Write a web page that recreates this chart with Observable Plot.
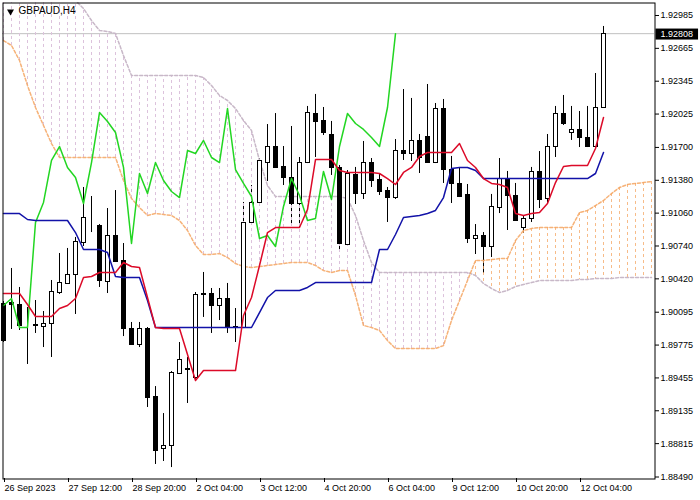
<!DOCTYPE html>
<html><head><meta charset="utf-8">
<script src="https://cdn.jsdelivr.net/npm/d3@7"></script>
<script src="https://cdn.jsdelivr.net/npm/@observablehq/plot@0.6"></script>
<style>
html,body{margin:0;padding:0;background:#fff;}
#chart{width:700px;height:500px;overflow:hidden;}
</style></head><body><div id="chart"></div>
<script>
const symbol = "GBPAUD,H4";
const lastPrice = 1.92808;
const dateLabels = ["26 Sep 2023","27 Sep 12:00","28 Sep 20:00","2 Oct 04:00","3 Oct 12:00","4 Oct 20:00","6 Oct 04:00","9 Oct 12:00","10 Oct 20:00","12 Oct 04:00"];
const labelBars = [0,8,16,24,32,40,48,56,64,72];
const priceTicks = [1.92985,1.92665,1.92345,1.92025,1.91700,1.91380,1.91060,1.90740,1.90420,1.90095,1.89775,1.89455,1.89135,1.88815,1.88490];

const open = [1.90180,1.90190,1.90170,1.89966,1.89975,1.89956,1.89985,1.90287,1.90375,1.90462,
1.90774,1.90930,1.90940,1.90394,1.90842,1.90599,1.89936,1.89780,1.89936,1.89274,
1.88768,1.88797,1.89498,1.89547,1.89459,1.90277,1.90277,1.90160,1.90229,1.89956,
1.89946,1.90969,1.91164,1.91553,1.91709,1.91514,1.91407,1.91154,1.91553,1.92030,
1.91962,1.91826,1.91505,1.90755,1.91436,1.91251,1.91553,1.91388,1.91280,1.91212,
1.91670,1.91641,1.91768,1.91806,1.91553,1.92079,1.91485,1.91349,1.91242,1.90813,
1.90842,1.90735,1.91115,1.91397,1.91232,1.90920,1.91008,1.91466,1.91203,1.91709,
1.92030,1.91845,1.91875,1.91797,1.91709,1.92089];
const high = [1.90199,1.90521,1.90336,1.90141,1.90209,1.90102,1.90404,1.90667,1.90716,1.90823,
1.91310,1.91222,1.90949,1.91105,1.91280,1.90764,1.89995,1.89995,1.89946,1.89371,
1.89108,1.89517,1.89800,1.89654,1.90287,1.90482,1.90326,1.90326,1.90375,1.90131,
1.91164,1.91329,1.91592,1.91923,1.92030,1.91709,1.91904,1.91602,1.92099,1.92216,
1.92089,1.91953,1.91524,1.91475,1.91505,1.91758,1.91592,1.91436,1.91310,1.91777,
1.92264,1.92177,1.91826,1.92313,1.92128,1.92167,1.91612,1.91495,1.91339,1.90949,
1.90871,1.91242,1.91592,1.91466,1.91349,1.91037,1.91505,1.91660,1.91826,1.92099,
1.92206,1.92099,1.92050,1.92099,1.92420,1.92878];
const low = [1.89800,1.89927,1.89917,1.89586,1.89888,1.89751,1.89654,1.90268,1.90375,1.90073,
1.90735,1.90871,1.90336,1.90277,1.90579,1.89858,1.89780,1.89751,1.89167,1.88612,
1.88641,1.88582,1.89488,1.89206,1.89440,1.90044,1.89888,1.90014,1.89888,1.89800,
1.89936,1.90959,1.91154,1.91368,1.91505,1.91329,1.90940,1.90920,1.91543,1.91602,
1.91816,1.91427,1.90696,1.90745,1.91144,1.91193,1.91310,1.91232,1.90969,1.91193,
1.91573,1.91563,1.91446,1.91553,1.91543,1.91349,1.91154,1.91212,1.90764,1.90657,
1.90472,1.90628,1.91056,1.90891,1.90979,1.90862,1.90969,1.91105,1.91154,1.91602,
1.91914,1.91768,1.91699,1.91699,1.91709,1.92089];
const close = [1.89819,1.90170,1.89966,1.89966,1.89970,1.89985,1.90297,1.90384,1.90462,1.90784,
1.91018,1.90930,1.90404,1.90842,1.90589,1.89936,1.89780,1.89936,1.89264,1.88748,
1.88797,1.89508,1.89634,1.89540,1.90268,1.90270,1.90160,1.90229,1.89946,1.89946,
1.90969,1.91164,1.91573,1.91709,1.91505,1.91407,1.91154,1.91553,1.92040,1.91953,
1.91845,1.91505,1.90764,1.91446,1.91251,1.91553,1.91378,1.91271,1.91212,1.91670,
1.91641,1.91768,1.91602,1.91553,1.92079,1.91485,1.91349,1.91222,1.90813,1.90842,
1.90735,1.91125,1.91397,1.91232,1.90988,1.91008,1.91466,1.91193,1.91709,1.92030,
1.91933,1.91875,1.91797,1.91709,1.92089,1.92808];
const tenkan = [1.90277,1.90277,1.90277,1.90170,1.90053,1.90053,1.90053,1.90131,1.90160,1.90229,
1.90433,1.90443,1.90482,1.90482,1.90482,1.90579,1.90540,1.90530,1.90238,1.89946,
1.89936,1.89936,1.89936,1.89683,1.89430,1.89527,1.89527,1.89527,1.89527,1.89527,
1.90063,1.90238,1.90550,1.90871,1.90920,1.90920,1.90920,1.90920,1.91095,1.91582,
1.91582,1.91582,1.91475,1.91456,1.91456,1.91456,1.91456,1.91446,1.91397,1.91339,
1.91456,1.91505,1.91612,1.91651,1.91651,1.91651,1.91651,1.91738,1.91573,1.91505,
1.91397,1.91349,1.91339,1.91310,1.91056,1.91037,1.91056,1.91066,1.91154,1.91358,
1.91514,1.91524,1.91524,1.91524,1.91690,1.91992];
const kijun = [1.91056,1.91056,1.91056,1.90998,1.90988,1.90988,1.90988,1.90988,1.90988,1.90871,
1.90706,1.90706,1.90706,1.90677,1.90443,1.90433,1.90433,1.90433,1.90209,1.89946,
1.89946,1.89946,1.89946,1.89946,1.89946,1.89946,1.89946,1.89946,1.89946,1.89946,
1.89946,1.89946,1.90092,1.90238,1.90307,1.90307,1.90307,1.90307,1.90336,1.90384,
1.90384,1.90384,1.90384,1.90384,1.90384,1.90384,1.90384,1.90706,1.90706,1.90852,
1.91018,1.91027,1.91037,1.91056,1.91086,1.91212,1.91495,1.91505,1.91505,1.91475,
1.91397,1.91397,1.91397,1.91397,1.91397,1.91397,1.91397,1.91397,1.91397,1.91397,
1.91397,1.91397,1.91397,1.91397,1.91446,1.91651];
const spanA = [1.92741,1.92693,1.92547,1.92303,1.92089,1.91914,1.91738,1.91602,1.91602,1.91602,
1.91602,1.91602,1.91602,1.91602,1.91602,1.91378,1.91203,1.91115,1.91037,1.91056,
1.91047,1.91037,1.90988,1.90891,1.90745,1.90657,1.90657,1.90667,1.90628,1.90569,
1.90540,1.90530,1.90540,1.90550,1.90560,1.90569,1.90579,1.90579,1.90579,1.90550,
1.90501,1.90482,1.90501,1.90501,1.90258,1.89966,1.89946,1.89917,1.89819,1.89741,
1.89741,1.89741,1.89741,1.89741,1.89741,1.89770,1.90014,1.90209,1.90404,1.90599,
1.90599,1.90608,1.90618,1.90618,1.90793,1.90891,1.90910,1.90920,1.90920,1.90920,
1.90920,1.90920,1.91066,1.91086,1.91134,1.91183,1.91251,1.91310,1.91339,1.91349,
1.91358,1.91368];
const spanB = [1.93131,1.93131,1.93131,1.93131,1.93131,1.93131,1.93131,1.93131,1.93131,1.93131,
1.93053,1.92936,1.92839,1.92829,1.92810,1.92595,1.92401,1.92401,1.92401,1.92401,
1.92401,1.92401,1.92401,1.92401,1.92401,1.92381,1.92303,1.92206,1.92157,1.92079,
1.91962,1.91865,1.91573,1.91329,1.91222,1.91222,1.91222,1.91222,1.91222,1.91222,
1.91222,1.91222,1.91222,1.91203,1.91037,1.90793,1.90579,1.90482,1.90482,1.90482,
1.90482,1.90482,1.90482,1.90482,1.90482,1.90482,1.90482,1.90482,1.90482,1.90453,
1.90375,1.90326,1.90287,1.90307,1.90345,1.90365,1.90384,1.90404,1.90404,1.90404,
1.90404,1.90404,1.90414,1.90414,1.90423,1.90423,1.90423,1.90433,1.90433,1.90433,
1.90433,1.90433];

const candles = open.map((o, i) => ({i, o, h: high[i], l: low[i], c: close[i], t: tenkan[i], k: kijun[i]}));
const cloud = spanA.map((a, i) => ({i, a, b: spanB[i]}));
const chikou = close.slice(26).map((c, i) => ({i, c}));

const FONT = "'Liberation Sans', Arial, 'DejaVu Sans', sans-serif";
const SANDY = "#f4a460", THISTLE = "#dcc2dc", THISTLE_LINE = "#c8b8c8";

const plot = Plot.plot({
  width: 700, height: 500,
  marginTop: 2, marginBottom: 22, marginLeft: 2, marginRight: 46,
  style: {fontFamily: FONT, fontSize: "9px", color: "#000", background: "#fff", overflow: "visible"},
  x: {domain: [-0.125, 81.375]},
  y: {domain: [1.884754, 1.931116]},
  marks: [
    Plot.ruleY([lastPrice], {stroke: "#c0c0c0", clip: true}),
    // wicks
    Plot.ruleX(candles, {x: "i", y1: "l", y2: "h", stroke: "#000"}),
    // cloud hatch (drawn over wicks)
    Plot.ruleX(cloud.filter(d => d.b > d.a), {x: "i", y1: "a", y2: "b", stroke: THISTLE, strokeDasharray: "3,3", clip: true}),
    Plot.ruleX(cloud.filter(d => d.a >= d.b), {x: "i", y1: "a", y2: "b", stroke: SANDY, strokeOpacity: 0.75, strokeDasharray: "3,3", clip: true}),
    Plot.line(cloud, {x: "i", y: "b", stroke: THISTLE_LINE, strokeDasharray: "3,2", clip: true}),
    Plot.line(cloud, {x: "i", y: "a", stroke: SANDY, strokeOpacity: 0.85, strokeDasharray: "3,2", clip: true}),
    // bodies (half-pixel shift for crisp 1px outlines)
    Plot.rect(candles, {x1: d => d.i - 0.25, x2: d => d.i + 0.25, y1: "o", y2: "c", dx: 0.5, dy: 0.5,
      fill: d => d.c > d.o ? "white" : "black", stroke: "black", shapeRendering: "crispEdges"}),
    // ichimoku lines
    Plot.line(chikou, {x: "i", y: "c", stroke: "#22d622", clip: true}),
    Plot.line(candles, {x: "i", y: "k", stroke: "#1212a8"}),
    Plot.line(candles, {x: "i", y: "t", stroke: "#dc0a28"}),
    Plot.frame({stroke: "#000", dx: 0.5, dy: 0.5}),
    Plot.axisY(priceTicks, {anchor: "right", tickSize: 4, tickPadding: 2, tickFormat: d => d.toFixed(5), label: null, fontSize: 9}),
    Plot.axisX(labelBars, {anchor: "bottom", tickSize: 4, tickPadding: 2, textAnchor: "start", dx: 1,
      tickFormat: i => dateLabels[labelBars.indexOf(i)], label: null, fontSize: 9}),
    Plot.text([lastPrice], {y: d => d, frameAnchor: "right", dx: 6, textAnchor: "start", fill: "white", fontSize: 9, text: d => d.toFixed(5)}),
    Plot.dot([symbol], {frameAnchor: "top-left", dx: 8, dy: 9, symbol: "triangle", r: 2.6, rotate: 180, fill: "#000", stroke: "none"}),
    Plot.text([symbol], {frameAnchor: "top-left", dx: 16, dy: 4, fontSize: 10, fill: "#000", textAnchor: "start", lineAnchor: "top"})
  ]
});
document.getElementById("chart").append(plot);

// black background box behind the last-price label
const lbl = [...plot.querySelectorAll("text")].find(e => e.textContent === lastPrice.toFixed(5) &&
  (e.getAttribute("fill") === "white" || (e.parentNode && e.parentNode.getAttribute("fill") === "white")));
if (lbl) {
  const bb = lbl.getBBox();
  const r = document.createElementNS("http://www.w3.org/2000/svg", "rect");
  r.setAttribute("x", bb.x - 5);
  r.setAttribute("y", bb.y);
  r.setAttribute("width", bb.width + 10);
  r.setAttribute("height", bb.height + 1);
  r.setAttribute("fill", "#000");
  if (lbl.getAttribute("transform")) r.setAttribute("transform", lbl.getAttribute("transform"));
  lbl.parentNode.insertBefore(r, lbl);
}
</script></body></html>
